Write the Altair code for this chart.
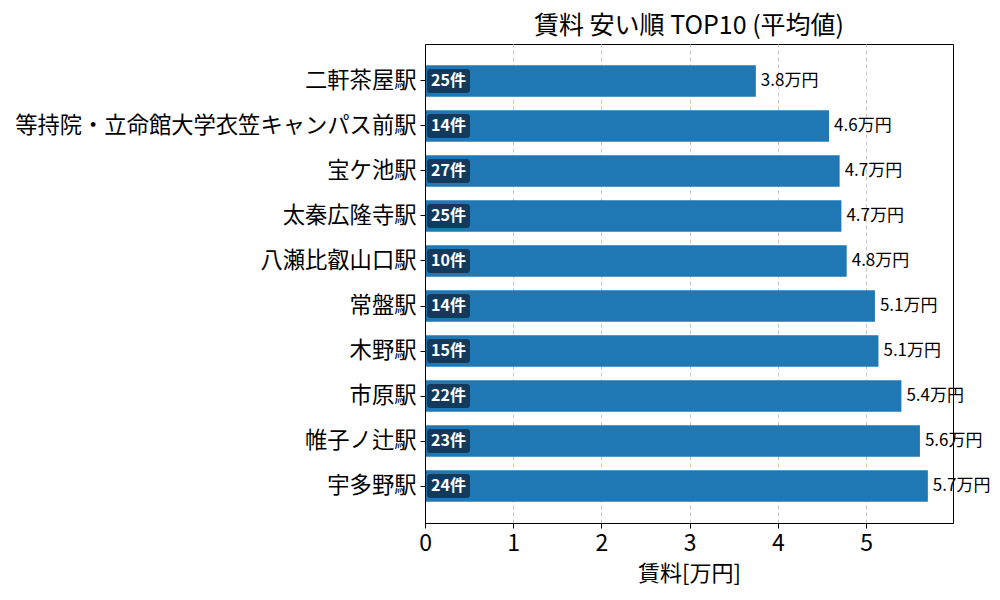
import altair as alt
import pandas as pd

FONT = "Noto Sans CJK JP"

stations = [
    "二軒茶屋駅",
    "等持院・立命館大学衣笠キャンパス前駅",
    "宝ケ池駅",
    "太秦広隆寺駅",
    "八瀬比叡山口駅",
    "常盤駅",
    "木野駅",
    "市原駅",
    "帷子ノ辻駅",
    "宇多野駅",
]
rent = [3.75, 4.58, 4.70, 4.72, 4.78, 5.10, 5.14, 5.40, 5.61, 5.70]
counts = [25, 14, 27, 25, 10, 14, 15, 22, 23, 24]

df = pd.DataFrame({"station": stations, "rent": rent, "count": counts})
df["rent_label"] = df["rent"].map(lambda v: f"{v:.1f}万円")
df["count_label"] = df["count"].map(lambda c: f"{c}件")

x_max = max(rent) * 1.05

y_enc = alt.Y(
    "station:N",
    sort=stations,
    scale=alt.Scale(paddingInner=0.3, paddingOuter=0.47),
    axis=alt.Axis(
        title=None,
        labelFontSize=22.3,
        labelFont=FONT,
        labelColor="black",
        labelPadding=4,
        tickSize=5,
        tickColor="black",
        domain=True,
        domainColor="black",
        domainWidth=1,
        grid=False,
        labelLimit=500,
        zindex=1,
    ),
)

x_scale = alt.Scale(domain=[0, x_max], nice=False, zero=True)

base = alt.Chart(df)

bars = base.mark_bar(color="#1f77b4").encode(
    x=alt.X(
        "rent:Q",
        scale=x_scale,
        axis=alt.Axis(
            title="賃料[万円]",
            titleFont=FONT,
            titleFontSize=22,
            titleFontWeight="normal",
            titleColor="black",
            titlePadding=8,
            values=[0, 1, 2, 3, 4, 5],
            format="d",
            labelFont=FONT,
            labelFontSize=23,
            labelColor="black",
            labelPadding=4,
            labelFlush=False,
            tickSize=5,
            tickColor="black",
            domain=True,
            domainColor="black",
            domainWidth=1,
            grid=True,
            gridColor="#c8c8c8",
            gridDash=[4, 3],
            gridWidth=1,
        ),
    ),
    y=y_enc,
)

value_text = base.mark_text(
    align="left", baseline="middle", dx=5, fontSize=17, font=FONT, color="black"
).encode(x=alt.X("rent:Q", scale=x_scale), y=y_enc, text="rent_label:N")

badges = base.mark_rect(
    color="#143a5b", width=43, height=24, cornerRadius=3, xOffset=23.5
).encode(x=alt.datum(0, scale=x_scale), y=y_enc)

badge_text = base.mark_text(
    align="left", baseline="middle", dx=6, fontSize=16, font=FONT,
    fontWeight="bold", color="white",
).encode(x=alt.datum(0, scale=x_scale), y=y_enc, text="count_label:N")

chart = (
    alt.layer(bars, value_text, badges, badge_text)
    .properties(
        width=528,
        height=479,
        title=alt.TitleParams(
            "賃料 安い順 TOP10 (平均値)",
            font=FONT,
            fontSize=25,
            fontWeight="normal",
            color="black",
            anchor="middle",
            offset=5,
        ),
        autosize=alt.AutoSizeParams(type="none"),
        padding={"left": 425, "top": 44, "right": 47, "bottom": 77},
        background="white",
    )
    .configure_view(stroke="black", strokeWidth=1)
)

chart.save("out.html", embed_options={"renderer": "svg", "actions": False})
